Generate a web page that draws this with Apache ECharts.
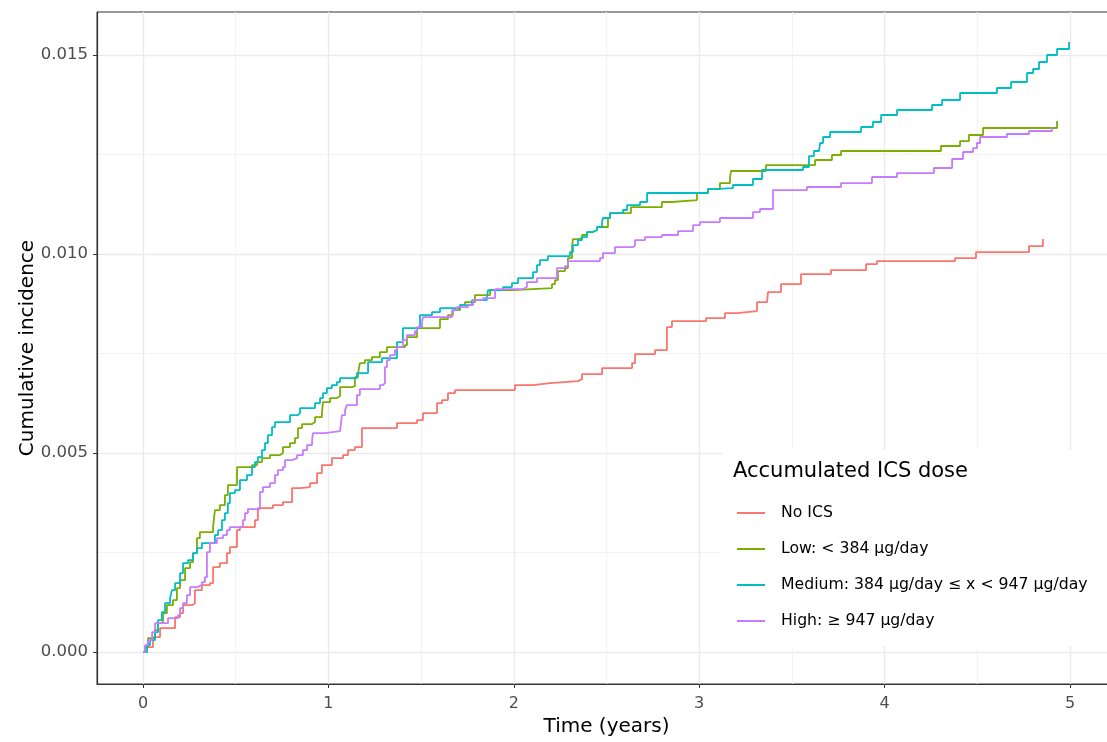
<!DOCTYPE html>
<html>
<head>
<meta charset="utf-8">
<script src="https://cdn.jsdelivr.net/npm/echarts@6/dist/echarts.min.js"></script>
<style>
  html, body { margin: 0; padding: 0; background: #fff; }
  #chart { width: 1107px; height: 742px; }
</style>
</head>
<body>
<div id="chart"></div>
<script>
// tick labels / gridline positions
const xMajor = [0, 1, 2, 3, 4, 5];
const xMinor = [0.5, 1.5, 2.5, 3.5, 4.5];
const yMajor = [0, 0.005, 0.010, 0.015];
const yMinor = [0.0025, 0.0075, 0.0125];

const groupNames = ['No ICS', 'Low: < 384 µg/day', 'Medium: 384 µg/day ≤ x < 947 µg/day', 'High: ≥ 947 µg/day'];
const groupColors = ['#F8766D', '#7CAE00', '#00BFC4', '#C77CFF'];

// No ICS
const noIcsTime = [0, 0.011, 0.054, 0.092, 0.173, 0.200, 0.216, 0.264, 0.280, 0.318, 0.361, 0.378, 0.415, 0.453, 0.469, 0.507, 0.523, 0.604, 0.620, 0.701, 0.755, 0.804, 0.847, 0.901, 0.939, 0.965, 1.019, 1.079, 1.106, 1.143, 1.181, 1.370, 1.478, 1.510, 1.586, 1.613, 1.645, 1.683, 2.006, 2.104, 2.195, 2.346, 2.368, 2.476, 2.638, 2.654, 2.762, 2.826, 2.853, 3.037, 3.139, 3.204, 3.312, 3.366, 3.371, 3.441, 3.549, 3.711, 3.900, 3.959, 4.380, 4.493, 4.779, 4.854];
const noIcsInc = [0, 0.000126, 0.000377, 0.000603, 0.000879, 0.000980, 0.001181, 0.001231, 0.001558, 0.001683, 0.001734, 0.002136, 0.002236, 0.002487, 0.002638, 0.003065, 0.003141, 0.003317, 0.003618, 0.003694, 0.003769, 0.004121, 0.004146, 0.004246, 0.004498, 0.004699, 0.004874, 0.004950, 0.005075, 0.005151, 0.005628, 0.005754, 0.005829, 0.006005, 0.006256, 0.006332, 0.006508, 0.006583, 0.006709, 0.006759, 0.006809, 0.006859, 0.006985, 0.007136, 0.007261, 0.007488, 0.007588, 0.008166, 0.008317, 0.008392, 0.008518, 0.008568, 0.008794, 0.008844, 0.009045, 0.009246, 0.009498, 0.009598, 0.009749, 0.009824, 0.009900, 0.010050, 0.010201, 0.010377];

// Low
const lowTime = [0, 0.011, 0.027, 0.065, 0.081, 0.108, 0.129, 0.162, 0.183, 0.200, 0.227, 0.254, 0.270, 0.291, 0.307, 0.378, 0.388, 0.415, 0.442, 0.458, 0.507, 0.588, 0.615, 0.642, 0.685, 0.739, 0.755, 0.793, 0.820, 0.836, 0.858, 0.912, 0.928, 0.965, 0.971, 1.009, 1.046, 1.063, 1.127, 1.143, 1.160, 1.170, 1.197, 1.235, 1.278, 1.316, 1.413, 1.424, 1.478, 1.602, 1.645, 1.672, 1.710, 1.737, 1.791, 1.872, 1.996, 2.206, 2.222, 2.238, 2.276, 2.292, 2.314, 2.319, 2.346, 2.368, 2.395, 2.427, 2.449, 2.508, 2.519, 2.632, 2.799, 2.853, 2.988, 3.047, 3.112, 3.166, 3.171, 3.360, 3.625, 3.716, 3.765, 4.304, 4.407, 4.455, 4.531, 4.930];
const lowInc = [0, 0.000126, 0.000352, 0.000553, 0.000729, 0.000980, 0.001181, 0.001307, 0.001608, 0.001809, 0.002111, 0.002261, 0.002487, 0.002864, 0.003015, 0.003141, 0.003568, 0.003694, 0.003945, 0.004196, 0.004648, 0.004699, 0.004774, 0.004874, 0.004950, 0.005000, 0.005151, 0.005251, 0.005377, 0.005628, 0.005729, 0.005779, 0.005905, 0.006005, 0.006282, 0.006382, 0.006432, 0.006658, 0.006684, 0.006910, 0.007010, 0.007261, 0.007337, 0.007412, 0.007538, 0.007663, 0.007714, 0.007915, 0.008141, 0.008367, 0.008467, 0.008593, 0.008719, 0.008794, 0.008970, 0.009096, 0.009146, 0.009246, 0.009347, 0.009573, 0.009648, 0.009900, 0.010176, 0.010377, 0.010402, 0.010478, 0.010553, 0.010603, 0.010679, 0.010905, 0.011030, 0.011181, 0.011307, 0.011357, 0.011533, 0.011633, 0.011784, 0.011910, 0.012086, 0.012236, 0.012362, 0.012488, 0.012588, 0.012714, 0.012839, 0.012990, 0.013166, 0.013342];

// Medium
const medTime = [0, 0.022, 0.038, 0.065, 0.081, 0.102, 0.119, 0.146, 0.156, 0.173, 0.200, 0.216, 0.243, 0.270, 0.291, 0.318, 0.388, 0.405, 0.426, 0.442, 0.458, 0.469, 0.496, 0.523, 0.561, 0.588, 0.604, 0.620, 0.642, 0.658, 0.674, 0.696, 0.712, 0.793, 0.836, 0.847, 0.928, 0.955, 0.971, 0.992, 1.019, 1.046, 1.063, 1.154, 1.214, 1.289, 1.370, 1.402, 1.494, 1.559, 1.602, 1.710, 1.775, 1.855, 1.861, 1.942, 1.990, 2.023, 2.104, 2.125, 2.141, 2.184, 2.303, 2.319, 2.346, 2.368, 2.395, 2.427, 2.449, 2.476, 2.481, 2.519, 2.589, 2.611, 2.681, 2.719, 3.047, 3.074, 3.182, 3.290, 3.339, 3.560, 3.592, 3.619, 3.646, 3.652, 3.668, 3.706, 3.873, 3.937, 3.981, 4.067, 4.256, 4.310, 4.407, 4.606, 4.682, 4.768, 4.801, 4.833, 4.876, 4.930, 4.995];
const medInc = [0, 0.000176, 0.000302, 0.000503, 0.000804, 0.001005, 0.001231, 0.001357, 0.001558, 0.001734, 0.001985, 0.002236, 0.002312, 0.002487, 0.002613, 0.002739, 0.002940, 0.003065, 0.003317, 0.003493, 0.003744, 0.003995, 0.004070, 0.004322, 0.004447, 0.004648, 0.004774, 0.004900, 0.005075, 0.005251, 0.005452, 0.005653, 0.005779, 0.005955, 0.006005, 0.006131, 0.006256, 0.006382, 0.006508, 0.006633, 0.006709, 0.006784, 0.006885, 0.007010, 0.007287, 0.007387, 0.007789, 0.008141, 0.008467, 0.008543, 0.008643, 0.008719, 0.008844, 0.008920, 0.009096, 0.009171, 0.009272, 0.009397, 0.009548, 0.009724, 0.009849, 0.009950, 0.010050, 0.010226, 0.010352, 0.010427, 0.010553, 0.010603, 0.010679, 0.010804, 0.010905, 0.011030, 0.011106, 0.011231, 0.011307, 0.011533, 0.011633, 0.011658, 0.011734, 0.011885, 0.012111, 0.012186, 0.012462, 0.012588, 0.012613, 0.012789, 0.012940, 0.013066, 0.013191, 0.013317, 0.013493, 0.013618, 0.013744, 0.013870, 0.014045, 0.014171, 0.014322, 0.014548, 0.014648, 0.014824, 0.015000, 0.015151, 0.015327];

// High
const highTime = [0, 0.011, 0.027, 0.049, 0.065, 0.135, 0.189, 0.200, 0.216, 0.237, 0.254, 0.291, 0.318, 0.334, 0.345, 0.361, 0.399, 0.432, 0.453, 0.469, 0.539, 0.550, 0.566, 0.631, 0.647, 0.685, 0.712, 0.728, 0.755, 0.766, 0.804, 0.831, 0.863, 0.885, 0.912, 0.917, 0.982, 1.063, 1.073, 1.090, 1.100, 1.154, 1.170, 1.278, 1.294, 1.305, 1.316, 1.332, 1.359, 1.370, 1.402, 1.424, 1.467, 1.478, 1.505, 1.510, 1.667, 1.694, 1.753, 1.780, 1.834, 1.899, 2.050, 2.071, 2.125, 2.233, 2.276, 2.292, 2.465, 2.481, 2.546, 2.643, 2.654, 2.708, 2.799, 2.886, 2.967, 3.004, 3.112, 3.290, 3.328, 3.398, 3.581, 3.765, 3.932, 4.067, 4.266, 4.364, 4.423, 4.477, 4.498, 4.515, 4.660, 4.779, 4.903];
const highInc = [0, 0.000176, 0.000302, 0.000503, 0.000729, 0.000854, 0.000930, 0.001106, 0.001231, 0.001432, 0.001633, 0.001683, 0.001759, 0.001884, 0.002513, 0.002739, 0.002864, 0.002940, 0.003065, 0.003141, 0.003317, 0.003493, 0.003593, 0.004020, 0.004146, 0.004246, 0.004447, 0.004573, 0.004648, 0.004824, 0.004874, 0.004950, 0.005075, 0.005201, 0.005327, 0.005503, 0.005553, 0.005603, 0.005955, 0.006080, 0.006206, 0.006457, 0.006608, 0.006709, 0.006759, 0.007161, 0.007337, 0.007462, 0.007588, 0.007663, 0.007839, 0.007965, 0.008065, 0.008166, 0.008292, 0.008417, 0.008593, 0.008668, 0.008719, 0.008844, 0.008895, 0.009121, 0.009171, 0.009297, 0.009397, 0.009648, 0.009699, 0.009824, 0.009900, 0.010025, 0.010176, 0.010226, 0.010352, 0.010427, 0.010478, 0.010578, 0.010729, 0.010804, 0.010905, 0.011055, 0.011131, 0.011608, 0.011684, 0.011784, 0.011935, 0.012035, 0.012161, 0.012387, 0.012563, 0.012663, 0.012789, 0.012940, 0.013015, 0.013091, 0.013191];

const font = "'DejaVu Sans', 'Liberation Sans', Arial, sans-serif";

function zip(t, v) { return t.map((x, i) => [x, v[i]]); }

const curves = [zip(noIcsTime, noIcsInc), zip(lowTime, lowInc), zip(medTime, medInc), zip(highTime, highInc)];

const option = {
  animation: false,
  textStyle: { fontFamily: font },
  grid: {
    left: 97, top: 12, width: 1019, height: 672,
    outerBoundsMode: 'none', containLabel: false,
    show: true, borderColor: '#333333', borderWidth: 1, backgroundColor: 'transparent'
  },
  title: {
    text: 'Accumulated ICS dose', left: 733, top: 461, padding: 0,
    textStyle: { fontFamily: font, fontSize: 21, fontWeight: 'normal', color: '#000' }
  },
  legend: {
    orient: 'vertical', left: 722, top: 450,
    padding: [53, 45, 15, 15],
    backgroundColor: '#ffffff',
    itemWidth: 28, itemHeight: 2, itemGap: 16,
    icon: 'rect',
    data: groupNames,
    textStyle: { fontFamily: font, fontSize: 15.7, color: '#000', lineHeight: 20, padding: [0, 0, 0, 11] }
  },
  xAxis: [
    {
      type: 'value', min: -0.248, max: 5.248,
      name: 'Time (years)', nameLocation: 'middle', nameGap: 33, nameMoveOverlap: false,
      nameTextStyle: { fontFamily: font, fontSize: 20, color: '#000' },
      axisLine: { show: true, onZero: false, lineStyle: { color: '#333333', width: 1.2 } },
      axisTick: { show: true, customValues: xMajor, length: 4, lineStyle: { color: '#333333' } },
      axisLabel: { customValues: xMajor, color: '#4d4d4d', fontSize: 16, margin: 12 },
      splitLine: { show: true, lineStyle: { color: '#ebebeb', width: 1.4 } }
    },
    {
      type: 'value', min: -0.248, max: 5.248, position: 'top',
      axisLine: { show: false }, axisLabel: { show: false },
      axisTick: { show: false, customValues: xMinor },
      splitLine: { show: true, lineStyle: { color: '#f2f2f2', width: 1 } }
    }
  ],
  yAxis: [
    {
      type: 'value', min: -0.0008, max: 0.01608,
      name: 'Cumulative incidence', nameLocation: 'middle', nameGap: 59, nameMoveOverlap: false,
      nameTextStyle: { fontFamily: font, fontSize: 20, color: '#000' },
      axisLine: { show: true, onZero: false, lineStyle: { color: '#333333', width: 1.2 } },
      axisTick: { show: true, customValues: yMajor, length: 4, lineStyle: { color: '#333333' } },
      axisLabel: { customValues: yMajor, color: '#4d4d4d', fontSize: 16.5, margin: 9, formatter: v => v.toFixed(3) },
      splitLine: { show: true, lineStyle: { color: '#ebebeb', width: 1.4 } }
    },
    {
      type: 'value', min: -0.0008, max: 0.01608, position: 'right',
      axisLine: { show: false }, axisLabel: { show: false },
      axisTick: { show: false, customValues: yMinor },
      splitLine: { show: true, lineStyle: { color: '#f2f2f2', width: 1 } }
    }
  ],
  series: curves.map((d, i) => ({
    name: groupNames[i],
    type: 'line',
    step: 'end',
    showSymbol: false,
    symbol: 'none',
    xAxisIndex: 0, yAxisIndex: 0,
    color: groupColors[i],
    lineStyle: { width: 1.8, color: groupColors[i] },
    data: d
  }))
};

echarts.init(document.getElementById('chart')).setOption(option);
</script>
</body>
</html>
